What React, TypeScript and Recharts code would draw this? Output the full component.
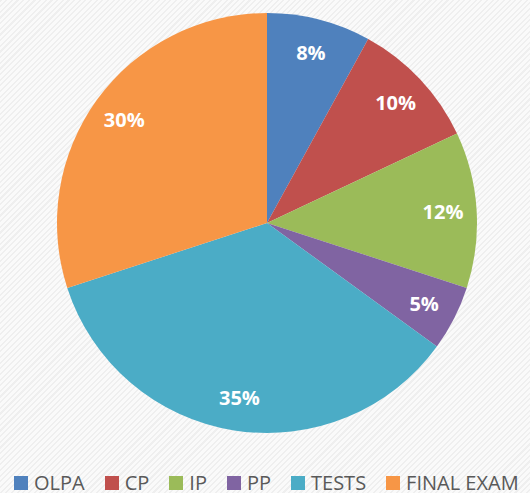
import React from "react";
import { PieChart, Pie, Cell, Legend } from "recharts";

const categories = ["OLPA", "CP", "IP", "PP", "TESTS", "FINAL EXAM"];
const values = [8, 10, 12, 5, 35, 30];
const colors = ["#4F81BD", "#C0504D", "#9BBB59", "#8064A2", "#4BACC6", "#F79646"];

const data = categories.map((name, i) => ({ name, value: values[i] }));

const RAD = Math.PI / 180;

const renderLabel = (props: any) => {
  const { cx, cy, midAngle, outerRadius, value } = props;
  const r = outerRadius * 0.84;
  const x = cx + r * Math.cos(-midAngle * RAD);
  const y = cy + r * Math.sin(-midAngle * RAD);
  return (
    <text
      x={x}
      y={y}
      fill="#ffffff"
      textAnchor="middle"
      dominantBaseline="central"
      style={{ fontFamily: "'Open Sans', 'DejaVu Sans', sans-serif", fontWeight: 700, fontSize: 20 }}
    >
      {`${value}%`}
    </text>
  );
};

const renderLegend = () => (
  <div
    style={{
      display: "flex",
      flexDirection: "row",
      alignItems: "center",
      paddingLeft: 14,
      fontFamily: "'Open Sans', 'DejaVu Sans', sans-serif",
      fontSize: 20,
      color: "#595959",
      whiteSpace: "nowrap",
    }}
  >
    {categories.map((c, i) => (
      <div key={c} style={{ display: "flex", alignItems: "center", marginRight: 20 }}>
        <span style={{ display: "inline-block", width: 14, height: 14, background: colors[i], marginRight: 6 }} />
        <span style={{ lineHeight: "20px" }}>{c}</span>
      </div>
    ))}
  </div>
);

export default function App() {
  return (
    <div
      style={{
        position: "fixed",
        left: 0,
        top: 0,
        width: 530,
        height: 493,
        overflow: "hidden",
        background:
          "repeating-linear-gradient(135deg, #efefef 0px, #efefef 1.5px, #fafafa 1.5px, #fafafa 4px)",
      }}
    >
      <PieChart width={530} height={493} margin={{ top: 0, right: 0, bottom: 0, left: 0 }}>
        <Pie
          data={data}
          dataKey="value"
          nameKey="name"
          cx={267}
          cy={223}
          outerRadius={210}
          startAngle={90}
          endAngle={-270}
          stroke="none"
          label={renderLabel}
          labelLine={false}
          isAnimationActive={false}
        >
          {data.map((d, i) => (
            <Cell key={d.name} fill={colors[i]} />
          ))}
        </Pie>
        <Legend
          content={renderLegend}
          wrapperStyle={{ position: "absolute", left: 0, top: 473, width: 530 }}
        />
      </PieChart>
    </div>
  );
}
